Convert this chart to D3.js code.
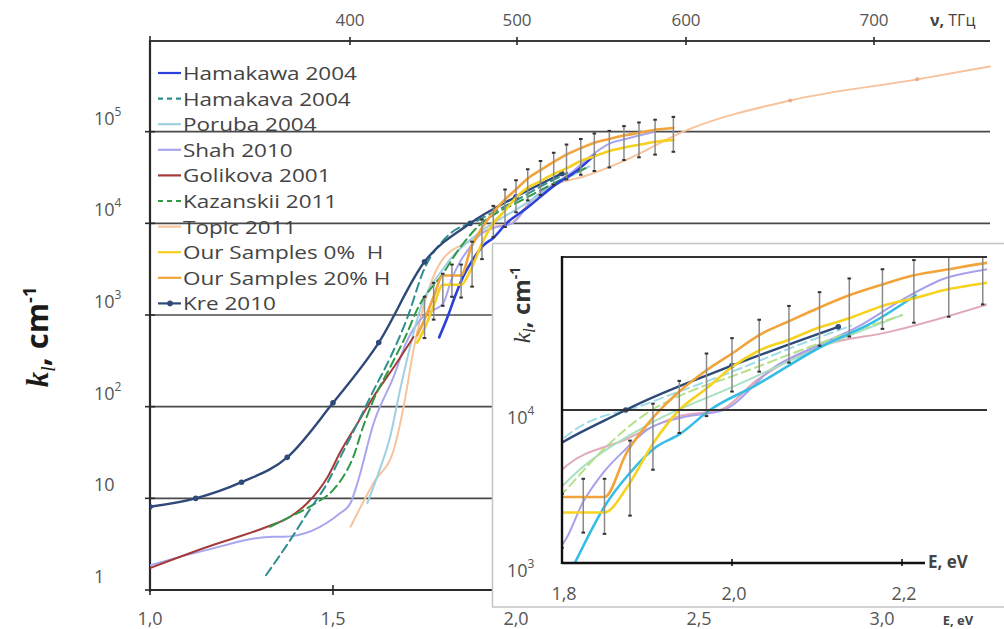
<!DOCTYPE html>
<html>
<head>
<meta charset="utf-8">
<script src="https://cdn.jsdelivr.net/npm/d3@7"></script>
<style>
  body { margin: 0; background: #fff; }
  svg { display: block; }
  text { font-family: "Open Sans", "DejaVu Sans", sans-serif; }
</style>
</head>
<body>
<svg id="chart" width="1004" height="629"></svg>
<script>
// ---- data: photon energy E (eV) and absorption coefficient k (cm^-1) ----
const hamakawaE = [1.79, 1.815, 1.833, 1.85, 1.88, 1.911, 1.938, 1.974, 2.028, 2.107, 2.165, 2.216];
const hamakawaK = [570, 1000, 1580, 2340, 3890, 5750, 6920, 10000, 14500, 26300, 37200, 56200];

const hamakavaE = [1.317, 1.383, 1.43, 1.485, 1.52, 1.567, 1.611, 1.657, 1.704, 1.748, 1.81, 1.9, 2.0, 2.085, 2.14];
const hamakavaK = [1.45, 3.5, 6.9, 14.8, 28, 66, 151, 347, 955, 3090, 7080, 11000, 17800, 27500, 35500];

const porubaE = [1.594, 1.63, 1.656, 1.683, 1.702, 1.738, 1.8, 1.9, 2.0, 2.1, 2.2];
const porubaK = [8.9, 21.9, 46.8, 151, 324, 1150, 3160, 7940, 14100, 25100, 41700];

const shahE = [1.0, 1.156, 1.337, 1.364, 1.52, 1.548, 1.567, 1.611, 1.666, 1.7, 1.75, 1.8, 1.825, 1.85, 1.876, 1.9, 1.94, 1.99, 2.05, 2.1, 2.15, 2.2, 2.25, 2.3, 2.38];
const shahK = [1.86, 2.74, 3.8, 3.8, 6.9, 8.9, 14.8, 66, 214, 500, 1000, 1320, 2510, 3980, 5620, 7410, 8910, 10000, 19100, 26300, 35500, 52500, 72400, 83200, 100000];

const golikovaE = [1.0, 1.156, 1.32, 1.383, 1.43, 1.485, 1.52, 1.567, 1.611, 1.666, 1.72];
const golikovaK = [1.74, 2.95, 4.9, 6.3, 8.9, 17, 32, 66, 129, 269, 575];

const kazanskiiE = [1.328, 1.383, 1.445, 1.5, 1.527, 1.555, 1.582, 1.61, 1.656, 1.702, 1.73, 1.8, 1.85, 1.9, 1.95, 2.0, 2.1, 2.2];
const kazanskiiK = [4.9, 6.3, 8.5, 12.3, 17, 28, 60, 117, 269, 631, 1150, 2820, 5620, 9550, 13200, 16600, 26900, 41700];

const topicE = [1.548, 1.611, 1.666, 1.693, 1.72, 1.8, 1.876, 1.938, 1.986, 2.03, 2.107, 2.185, 2.3, 2.462, 2.749, 3.096, 3.295];
const topicK = [4.9, 14.8, 33.9, 100, 417, 4070, 6460, 9120, 10000, 15800, 26300, 32400, 49000, 102000, 219000, 372000, 513000];
const topicMarkE = [2.749, 3.096];

const samplesE = [1.73, 1.75, 1.775, 1.8, 1.85, 1.876, 1.907, 1.938, 1.97, 2.0, 2.032, 2.067, 2.103, 2.138, 2.177, 2.214, 2.255, 2.298, 2.34, 2.38, 2.43];
const samples0K = [500, 710, 1260, 2140, 2140, 3090, 6030, 10000, 13800, 19100, 24500, 28800, 34700, 39800, 47900, 53700, 61700, 67600, 72400, 77600, 81300];
const samples20K = [600, 890, 1580, 2700, 2700, 5250, 8900, 13200, 18200, 23400, 30900, 38000, 46800, 56200, 66100, 75900, 83200, 91200, 97700, 104700, 109600];

// error bars of our samples: energy, lower and upper k
const errE = [1.75, 1.775, 1.8, 1.825, 1.85, 1.88, 1.907, 1.938, 1.97, 2.0, 2.032, 2.067, 2.103, 2.138, 2.177, 2.214, 2.255, 2.295, 2.336, 2.38, 2.43];
const errLo = [560, 890, 1260, 1580, 1550, 2040, 4070, 7080, 9120, 13200, 17800, 20400, 26300, 30200, 33900, 37200, 40700, 49000, 52500, 56200, 60300];
const errHi = [1580, 2240, 2820, 3550, 3550, 6310, 11000, 15500, 23400, 29500, 38900, 47900, 58900, 72400, 83200, 95500, 102000, 115000, 126000, 135000, 145000];

const kreE = [1.0, 1.125, 1.25, 1.375, 1.5, 1.625, 1.75, 1.875, 2.0, 2.125];
const kreK = [8.1, 10, 15, 28, 110, 500, 3800, 10000, 19500, 35000];

// axis ticks
const eTicks = [1.0, 1.5, 2.0, 2.5, 3.0];
const eTickLabels = ["1,0", "1,5", "2,0", "2,5", "3,0"];
const nuTicks = [400, 500, 600, 700];
const kExponents = [0, 1, 2, 3, 4, 5];
const insetETicks = [1.8, 2.0, 2.2];
const insetETickLabels = ["1,8", "2,0", "2,2"];
const insetKExponents = [3, 4];

// ---- series table (styles kept apart from the values) ----
const zip = (xs, ys) => xs.map((v, i) => [v, ys[i]]);
const series = [
  { name: "Hamakawa 2004",       pts: zip(hamakawaE, hamakawaK), color: "#2b3fd9", inset: "#36bde6", w: 2.6 },
  { name: "Hamakava 2004",       pts: zip(hamakavaE, hamakavaK), color: "#2f8f8c", inset: "#9fdbe8", w: 2,  dash: "9,5" },
  { name: "Poruba 2004",         pts: zip(porubaE, porubaK),     color: "#9fd0e2", inset: "#a8e0c0", w: 2 },
  { name: "Shah 2010",           pts: zip(shahE, shahK),         color: "#a7a6ee", inset: "#a7a0ea", w: 2 },
  { name: "Golikova 2001",       pts: zip(golikovaE, golikovaK), color: "#a53a3a", inset: "#a53a3a", w: 2 },
  { name: "Kazanskii 2011",      pts: zip(kazanskiiE, kazanskiiK), color: "#2d9a45", inset: "#b6e08a", w: 2, dash: "9,5" },
  { name: "Topic 2011",          pts: zip(topicE, topicK),       color: "#f6c39c", inset: "#e2aab8", w: 2 },
  { name: "Our Samples 0%  H",   pts: zip(samplesE, samples0K),  color: "#f7cf1f", inset: "#f7d21f", w: 2.6 },
  { name: "Our Samples 20% H",   pts: zip(samplesE, samples20K), color: "#f2a43a", inset: "#f2a43a", w: 2.6 },
  { name: "Kre 2010",            pts: zip(kreE, kreK),           color: "#2f4a78", inset: "#2f4a78", w: 2.4, marker: true }
];
const drawOrder = [6, 3, 2, 4, 5, 1, 0, 9, 7, 8];

const svg = d3.select("#chart");
svg.append("rect").attr("width", 1004).attr("height", 629).attr("fill", "#fff");

// ---- main panel scales ----
const x = d3.scaleLinear().domain([1, 3]).range([150, 882]);
const y = d3.scaleLog().domain([1, 1e6]).range([590, 40]);
const xNu = d3.scaleLinear().domain([400, 500, 600, 700]).range([350, 517, 686, 874]);

const defs = svg.append("defs");
defs.append("clipPath").attr("id", "mainClip").append("rect")
  .attr("x", 150).attr("y", 40).attr("width", 850).attr("height", 550);
defs.append("clipPath").attr("id", "insetClip").append("rect")
  .attr("x", 562).attr("y", 256).attr("width", 425).attr("height", 307);

const axisColor = "#2a2a2a";
const labelColor = "#555";

// horizontal grid lines at each decade
svg.append("g").selectAll("line").data(kExponents.slice(1)).join("line")
  .attr("x1", 150).attr("x2", 990)
  .attr("y1", d => y(Math.pow(10, d))).attr("y2", d => y(Math.pow(10, d)))
  .attr("stroke", "#4a4a4a").attr("stroke-width", 1.6);

// left axis with crossing ticks
svg.append("line").attr("x1", 150).attr("x2", 150).attr("y1", 40).attr("y2", 592)
  .attr("stroke", axisColor).attr("stroke-width", 2.2);
svg.append("g").selectAll("line").data(kExponents).join("line")
  .attr("x1", 145).attr("x2", 155)
  .attr("y1", d => y(Math.pow(10, d))).attr("y2", d => y(Math.pow(10, d)))
  .attr("stroke", axisColor).attr("stroke-width", 1.6);

// decade labels
const kLab = svg.append("g").selectAll("text").data(kExponents).join("text")
  .attr("x", 94).attr("y", d => y(Math.pow(10, d)) - 14)
  .attr("dominant-baseline", "central").attr("font-size", 18).attr("fill", labelColor);
kLab.each(function (d) {
  const t = d3.select(this);
  if (d === 0) t.text("1");
  else if (d === 1) t.text("10");
  else {
    t.append("tspan").text("10");
    t.append("tspan").attr("font-size", 12).attr("dy", -7).text(d);
  }
});

// bottom energy axis
svg.append("line").attr("x1", 150).attr("x2", 495).attr("y1", 590).attr("y2", 590)
  .attr("stroke", axisColor).attr("stroke-width", 2.2);
svg.append("g").selectAll("line").data(eTicks.filter(d => d < 2)).join("line")
  .attr("x1", d => x(d)).attr("x2", d => x(d)).attr("y1", 585).attr("y2", 595)
  .attr("stroke", axisColor).attr("stroke-width", 1.6);
svg.append("g").selectAll("text").data(eTicks).join("text")
  .attr("x", d => x(d)).attr("y", 618).attr("text-anchor", "middle")
  .attr("dominant-baseline", "central").attr("font-size", 18).attr("fill", labelColor)
  .text((d, i) => eTickLabels[i]);
svg.append("text").attr("x", 958).attr("y", 620).attr("text-anchor", "middle")
  .attr("dominant-baseline", "central").attr("font-size", 13).attr("font-weight", "bold")
  .attr("fill", "#444").text("E, eV");

// top frequency axis
svg.append("line").attr("x1", 150).attr("x2", 990).attr("y1", 41).attr("y2", 41)
  .attr("stroke", "#3a3a3a").attr("stroke-width", 2);
svg.append("g").selectAll("line").data(nuTicks).join("line")
  .attr("x1", d => xNu(d)).attr("x2", d => xNu(d)).attr("y1", 37).attr("y2", 45)
  .attr("stroke", axisColor).attr("stroke-width", 1.6);
svg.append("line").attr("x1", 150).attr("x2", 150).attr("y1", 36).attr("y2", 45)
  .attr("stroke", axisColor).attr("stroke-width", 1.6);
svg.append("g").selectAll("text").data(nuTicks).join("text")
  .attr("x", d => xNu(d)).attr("y", 19).attr("text-anchor", "middle")
  .attr("dominant-baseline", "central").attr("font-size", 17).attr("fill", labelColor)
  .text(d => d);
const nuLab = svg.append("text").attr("x", 930).attr("y", 20)
  .attr("dominant-baseline", "central").attr("font-size", 16).attr("fill", "#444");
nuLab.append("tspan").attr("font-weight", "bold").text("ν, ");
nuLab.append("tspan").text("ТГц");

// main axis title
const yTitle = svg.append("text").attr("transform", "translate(48,337) rotate(-90)")
  .attr("text-anchor", "middle").attr("font-size", 31).attr("fill", "#1a1a1a");
yTitle.append("tspan").attr("font-family", "'Liberation Serif', serif")
  .attr("font-style", "italic").attr("font-weight", "bold").text("k");
yTitle.append("tspan").attr("font-family", "'Liberation Serif', serif")
  .attr("font-style", "italic").attr("font-size", 20).attr("dy", 7).text("l");
yTitle.append("tspan").attr("font-weight", "bold").attr("dy", -7).text(", cm");
yTitle.append("tspan").attr("font-weight", "bold").attr("font-size", 18).attr("dy", -12).text("-1");

// ---- curves ----
function drawCurves(g, xs, ys, useInset) {
  const line = d3.line().x(d => xs(d[0])).y(d => ys(d[1])).curve(d3.curveMonotoneX);
  drawOrder.forEach(i => {
    const s = series[i];
    g.append("path").attr("d", line(s.pts)).attr("fill", "none")
      .attr("stroke", useInset ? s.inset : s.color).attr("stroke-width", s.w)
      .attr("stroke-dasharray", s.dash || null)
      .attr("stroke-linecap", "round").attr("stroke-linejoin", "round");
    if (s.marker) {
      g.append("g").selectAll("circle").data(s.pts).join("circle")
        .attr("cx", d => xs(d[0])).attr("cy", d => ys(d[1])).attr("r", 2.8)
        .attr("fill", s.color);
    }
  });
  // error bars of our samples
  const eb = g.append("g");
  errE.forEach((e, i) => {
    eb.append("line").attr("x1", xs(e)).attr("x2", xs(e))
      .attr("y1", ys(errLo[i])).attr("y2", ys(errHi[i]))
      .attr("stroke", "#8a8a8a").attr("stroke-width", 1.5);
    [errLo[i], errHi[i]].forEach(v => {
      eb.append("line").attr("x1", xs(e) - 1.8).attr("x2", xs(e) + 1.8)
        .attr("y1", ys(v)).attr("y2", ys(v))
        .attr("stroke", "#333").attr("stroke-width", 2);
    });
  });
}

const mainG = svg.append("g").attr("clip-path", "url(#mainClip)");
drawCurves(mainG, x, y, false);
// small markers on the Topic curve
const topicPts = series[6].pts.filter(d => topicMarkE.includes(d[0]));
mainG.append("g").selectAll("circle").data(topicPts).join("circle")
  .attr("cx", d => x(d[0])).attr("cy", d => y(d[1])).attr("r", 2)
  .attr("fill", "#e9a98a");

// ---- legend ----
const leg = svg.append("g");
series.forEach((s, i) => {
  const ly = 73 + i * 25.6;
  leg.append("line").attr("x1", 158).attr("x2", 181).attr("y1", ly).attr("y2", ly)
    .attr("stroke", s.color).attr("stroke-width", 2.2)
    .attr("stroke-dasharray", s.dash ? "5,4" : null);
  if (s.marker) leg.append("circle").attr("cx", 170).attr("cy", ly).attr("r", 2.8).attr("fill", s.color);
  leg.append("text").attr("transform", `translate(183,${ly}) scale(1.25,1)`)
    .attr("dominant-baseline", "central").attr("font-size", 18).attr("fill", "#444")
    .attr("xml:space", "preserve").text(s.name);
});

// ---- inset ----
const xi = d3.scaleLinear().domain([1.8, 2.3]).range([562, 987]);
const yi = d3.scaleLog().domain([1e3, 1e5]).range([563, 257]);

svg.append("rect").attr("x", 492.5).attr("y", 243.5).attr("width", 520).attr("height", 363.5)
  .attr("fill", "#fff").attr("stroke", "#c4c4c4").attr("stroke-width", 1.5);

const insetG = svg.append("g").attr("clip-path", "url(#insetClip)");
drawCurves(insetG, xi, yi, true);

svg.append("g").selectAll("line").data([4, 5]).join("line")
  .attr("x1", 562).attr("x2", 987)
  .attr("y1", d => yi(Math.pow(10, d))).attr("y2", d => yi(Math.pow(10, d)))
  .attr("stroke", "#333").attr("stroke-width", 1.8);
svg.append("line").attr("x1", 562).attr("x2", 562).attr("y1", 256).attr("y2", 564)
  .attr("stroke", "#111").attr("stroke-width", 2.4);
svg.append("line").attr("x1", 562).attr("x2", 925).attr("y1", 563).attr("y2", 563)
  .attr("stroke", "#111").attr("stroke-width", 2.4);
svg.append("g").selectAll("line").data(insetETicks.slice(1)).join("line")
  .attr("x1", d => xi(d)).attr("x2", d => xi(d)).attr("y1", 559).attr("y2", 566)
  .attr("stroke", "#111").attr("stroke-width", 1.6);
svg.append("g").selectAll("text").data(insetETicks).join("text")
  .attr("x", d => xi(d) + 2).attr("y", 593).attr("text-anchor", "middle")
  .attr("dominant-baseline", "central").attr("font-size", 18).attr("fill", labelColor)
  .text((d, i) => insetETickLabels[i]);
svg.append("text").attr("x", 928).attr("y", 561).attr("dominant-baseline", "central")
  .attr("font-size", 17).attr("font-weight", "bold").attr("fill", "#444").text("E, eV");

const kiLab = svg.append("g").selectAll("text").data(insetKExponents).join("text")
  .attr("x", 507).attr("y", d => yi(Math.pow(10, d)) + 7)
  .attr("dominant-baseline", "central").attr("font-size", 18).attr("fill", labelColor);
kiLab.append("tspan").text("10");
kiLab.append("tspan").attr("font-size", 12).attr("dy", -7).text(d => d);

const yiTitle = svg.append("text").attr("transform", "translate(530,305) rotate(-90)")
  .attr("text-anchor", "middle").attr("font-size", 24).attr("fill", "#333");
yiTitle.append("tspan").attr("font-family", "'Liberation Serif', serif")
  .attr("font-style", "italic").text("k");
yiTitle.append("tspan").attr("font-family", "'Liberation Serif', serif")
  .attr("font-style", "italic").attr("font-size", 16).attr("dy", 5).text("l");
yiTitle.append("tspan").attr("font-weight", "bold").attr("dy", -5).text(", cm");
yiTitle.append("tspan").attr("font-weight", "bold").attr("font-size", 14).attr("dy", -10).text("-1");
</script>
</body>
</html>
